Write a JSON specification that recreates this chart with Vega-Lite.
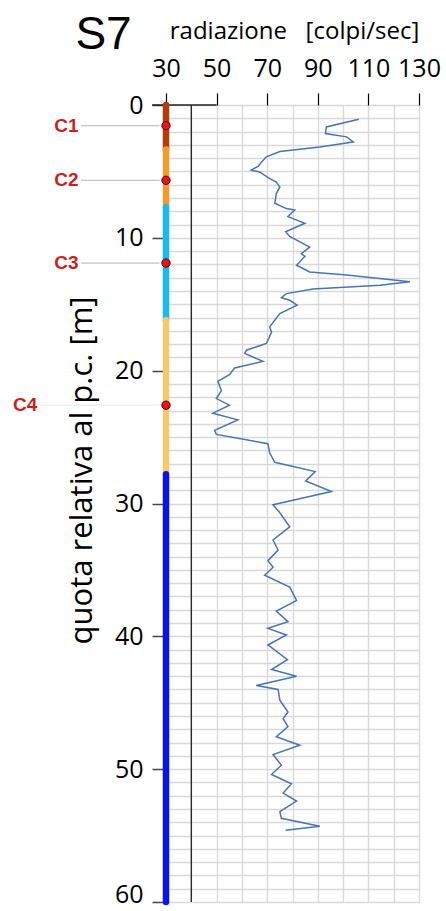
{
  "$schema": "https://vega.github.io/schema/vega-lite/v6.json",
  "width": 253,
  "height": 797,
  "autosize": "none",
  "padding": {"left": 166, "top": 105, "right": 27, "bottom": 9},
  "background": "white",
  "config": {
    "view": {"stroke": null},
    "font": "Open Sans",
    "axisX": {
      "orient": "top",
      "grid": true, "gridColor": "#d9d9d9", "gridWidth": 1.4,
      "domain": false,
      "tickColor": "#000", "tickSize": 12, "tickWidth": 1.2,
      "labelFontSize": 25, "labelColor": "#000", "labelPadding": 12,
      "labelFlush": false, "labelOverlap": false,
      "titleFontSize": 24, "titleFontWeight": "normal", "titleColor": "#000",
      "titleX": 128, "titleY": -67, "titleBaseline": "alphabetic", "titleAlign": "center"
    },
    "axisY": {
      "grid": true, "gridColor": "#d9d9d9", "gridWidth": 1.3,
      "domain": false,
      "tickColor": "#444", "tickSize": 14, "tickWidth": 1.5,
      "labelFontSize": 25, "labelColor": "#000", "labelPadding": 9, "labelOverlap": false,
      "titleFontSize": 31, "titleFontWeight": "normal", "titleColor": "#000",
      "titleAngle": 270, "titleX": -84, "titleY": 365,
      "titleAlign": "center", "titleBaseline": "middle"
    }
  },
  "datasets": {
    "log": [
      {"depth": 1.08, "cps": 106.2}, {"depth": 1.65, "cps": 93.4}, {"depth": 2.15, "cps": 93},
      {"depth": 2.4, "cps": 101.4}, {"depth": 2.78, "cps": 104}, {"depth": 3.16, "cps": 90.8},
      {"depth": 3.5, "cps": 75}, {"depth": 3.9, "cps": 69.7}, {"depth": 4.3, "cps": 67.7},
      {"depth": 4.6, "cps": 66.5}, {"depth": 4.9, "cps": 63.7}, {"depth": 5.04, "cps": 67},
      {"depth": 5.54, "cps": 71}, {"depth": 5.8, "cps": 73.6}, {"depth": 6.17, "cps": 75},
      {"depth": 6.67, "cps": 73.6}, {"depth": 7.4, "cps": 73}, {"depth": 7.8, "cps": 77.6},
      {"depth": 7.9, "cps": 80.9}, {"depth": 8.4, "cps": 78.2}, {"depth": 8.9, "cps": 84.9},
      {"depth": 9.55, "cps": 77.3}, {"depth": 9.9, "cps": 78.9}, {"depth": 10.7, "cps": 86.8},
      {"depth": 11.2, "cps": 83.5}, {"depth": 11.4, "cps": 84.9}, {"depth": 12.06, "cps": 81.6},
      {"depth": 12.57, "cps": 86.8}, {"depth": 12.8, "cps": 101.4}, {"depth": 13.3, "cps": 126.4},
      {"depth": 13.57, "cps": 114.6}, {"depth": 13.85, "cps": 88.1}, {"depth": 14.2, "cps": 77.6},
      {"depth": 14.5, "cps": 75.6}, {"depth": 14.7, "cps": 78.9}, {"depth": 15.07, "cps": 81.8},
      {"depth": 15.7, "cps": 75}, {"depth": 16.7, "cps": 71}, {"depth": 17.1, "cps": 71.7},
      {"depth": 17.95, "cps": 69.7}, {"depth": 18.46, "cps": 61.8}, {"depth": 18.7, "cps": 61.1},
      {"depth": 19.3, "cps": 68.3}, {"depth": 19.8, "cps": 57.1}, {"depth": 20.3, "cps": 55.1},
      {"depth": 20.8, "cps": 50.5}, {"depth": 21.5, "cps": 51.9}, {"depth": 22.1, "cps": 49.9},
      {"depth": 22.6, "cps": 55.1}, {"depth": 23.2, "cps": 48.5}, {"depth": 23.7, "cps": 58.4},
      {"depth": 24.5, "cps": 49.2}, {"depth": 24.8, "cps": 49.9}, {"depth": 25.5, "cps": 70.3},
      {"depth": 26.2, "cps": 71}, {"depth": 26.9, "cps": 73}, {"depth": 27.6, "cps": 89},
      {"depth": 28.3, "cps": 85.2}, {"depth": 29.1, "cps": 95.4}, {"depth": 30.1, "cps": 72.3},
      {"depth": 30.7, "cps": 75}, {"depth": 31.75, "cps": 78.9}, {"depth": 32.75, "cps": 72.3},
      {"depth": 33.5, "cps": 74.3}, {"depth": 34.3, "cps": 70.3}, {"depth": 34.8, "cps": 72.3},
      {"depth": 35.4, "cps": 69}, {"depth": 36.3, "cps": 78.9}, {"depth": 37.3, "cps": 81.6},
      {"depth": 38.1, "cps": 73.6}, {"depth": 38.9, "cps": 78.2}, {"depth": 39.4, "cps": 70.3},
      {"depth": 39.9, "cps": 77.6}, {"depth": 40.65, "cps": 70.3}, {"depth": 41.75, "cps": 78},
      {"depth": 42.5, "cps": 71.7}, {"depth": 43.0, "cps": 81.6}, {"depth": 43.7, "cps": 65.7},
      {"depth": 44.0, "cps": 74.3}, {"depth": 44.8, "cps": 75}, {"depth": 45.7, "cps": 78.2},
      {"depth": 46.2, "cps": 76.3}, {"depth": 46.8, "cps": 78.2}, {"depth": 47.55, "cps": 73.6},
      {"depth": 48.2, "cps": 82.9}, {"depth": 48.9, "cps": 72.3}, {"depth": 49.7, "cps": 75.6},
      {"depth": 50.4, "cps": 71.7}, {"depth": 51.1, "cps": 79.6}, {"depth": 51.8, "cps": 76.3},
      {"depth": 52.4, "cps": 81.6}, {"depth": 53.2, "cps": 75}, {"depth": 53.7, "cps": 75.6},
      {"depth": 54.3, "cps": 90.8}, {"depth": 54.6, "cps": 77.3}
    ],
    "units": [
      {"unit": "u1", "top": 0, "base": 3.35},
      {"unit": "u2", "top": 3.35, "base": 7.7},
      {"unit": "u3", "top": 7.7, "base": 16.2},
      {"unit": "u4", "top": 16.2, "base": 27.8},
      {"unit": "u5", "top": 27.8, "base": 60}
    ],
    "samples": [
      {"name": "C1", "depth": 1.55},
      {"name": "C2", "depth": 5.67},
      {"name": "C3", "depth": 11.9},
      {"name": "C4", "depth": 22.6}
    ],
    "one": [{"k": 1}]
  },
  "encoding": {
    "x": {
      "type": "quantitative",
      "scale": {"domain": [30, 130], "nice": false, "zero": false},
      "axis": {
        "values": [30, 40, 50, 60, 70, 80, 90, 100, 110, 120, 130],
        "tickOpacity": {"condition": {"test": "datum.value % 20 == 10", "value": 1}, "value": 0},
        "labelExpr": "datum.value % 20 == 10 ? datum.label : ''",
        "title": "radiazione\u00a0\u00a0\u00a0[colpi/sec]"
      }
    },
    "y": {
      "type": "quantitative",
      "scale": {"domain": [0, 60], "reverse": true, "nice": false, "zero": false},
      "axis": {
        "values": [0,1,2,3,4,5,6,7,8,9,10,11,12,13,14,15,16,17,18,19,20,21,22,23,24,25,26,27,28,29,30,31,32,33,34,35,36,37,38,39,40,41,42,43,44,45,46,47,48,49,50,51,52,53,54,55,56,57,58,59,60],
        "tickOpacity": {"condition": {"test": "datum.value % 10 == 0", "value": 1}, "value": 0},
        "labelOffset": {"condition": {"test": "datum.value == 60", "value": -8}, "value": 0},
        "labelExpr": "datum.value % 10 == 0 ? datum.label : ''",
        "title": "quota relativa al p.c. [m]"
      }
    }
  },
  "layer": [
    {
      "data": {"name": "log"},
      "mark": {"type": "line", "color": "#4a73b5", "strokeWidth": 1.5},
      "encoding": {
        "x": {"field": "cps"},
        "y": {"field": "depth"},
        "order": {"field": "depth", "type": "quantitative"}
      }
    },
    {
      "data": {"name": "one"},
      "mark": {"type": "rule", "color": "#222", "strokeWidth": 1.3},
      "encoding": {
        "x": {"datum": 40},
        "y": {"datum": 0},
        "y2": {"datum": 60}
      }
    },
    {
      "data": {"name": "one"},
      "mark": {"type": "rule", "color": "#222", "strokeWidth": 1.3},
      "encoding": {
        "x": {"datum": 24.5},
        "x2": {"datum": 50},
        "y": {"datum": 0}
      }
    },
    {
      "data": {"name": "samples"},
      "transform": [{"filter": "datum.name != 'C4'"}],
      "mark": {"type": "rule", "color": "#c4c4c4", "strokeWidth": 1.3},
      "encoding": {
        "x": {"datum": -3.5},
        "x2": {"datum": 27.4},
        "y": {"field": "depth"}
      }
    },
    {
      "data": {"name": "samples"},
      "transform": [{"filter": "datum.name == 'C4'"}],
      "mark": {"type": "rule", "color": "#ececec", "strokeWidth": 1.3},
      "encoding": {
        "x": {"datum": -20},
        "x2": {"datum": 27.4},
        "y": {"field": "depth"}
      }
    },
    {
      "data": {"name": "units"},
      "mark": {"type": "rule", "strokeWidth": 6.5, "strokeCap": "round"},
      "encoding": {
        "x": {"datum": 30},
        "y": {"field": "top"},
        "y2": {"field": "base"},
        "color": {
          "field": "unit", "type": "nominal", "legend": null,
          "scale": {"domain": ["u1", "u2", "u3", "u4", "u5"], "range": ["#b53b0a", "#f29a2c", "#1cb9f0", "#f8c96c", "#0b14e6"]}
        }
      }
    },
    {
      "data": {"name": "samples"},
      "mark": {"type": "point", "shape": "circle", "filled": true, "fill": "#e8141c", "stroke": "#5a0000", "strokeWidth": 1, "size": 70, "opacity": 1},
      "encoding": {
        "x": {"datum": 30},
        "y": {"field": "depth"}
      }
    },
    {
      "data": {"name": "samples"},
      "transform": [{"filter": "datum.name != 'C4'"}],
      "mark": {"type": "text", "align": "right", "baseline": "middle", "color": "#cc1f1f", "fontWeight": "bold", "fontSize": 19, "font": "Liberation Sans"},
      "encoding": {
        "x": {"datum": -4.6},
        "y": {"field": "depth"},
        "text": {"field": "name"}
      }
    },
    {
      "data": {"name": "samples"},
      "transform": [{"filter": "datum.name == 'C4'"}],
      "mark": {"type": "text", "align": "right", "baseline": "middle", "color": "#cc1f1f", "fontWeight": "bold", "fontSize": 19, "font": "Liberation Sans"},
      "encoding": {
        "x": {"datum": -20.9},
        "y": {"field": "depth"},
        "text": {"field": "name"}
      }
    },
    {
      "data": {"name": "one"},
      "mark": {"type": "text", "align": "center", "baseline": "middle", "color": "#000", "fontSize": 46, "font": "Liberation Sans", "text": "S7"},
      "encoding": {
        "x": {"datum": 5.3},
        "y": {"datum": -5.3}
      }
    }
  ]
}
